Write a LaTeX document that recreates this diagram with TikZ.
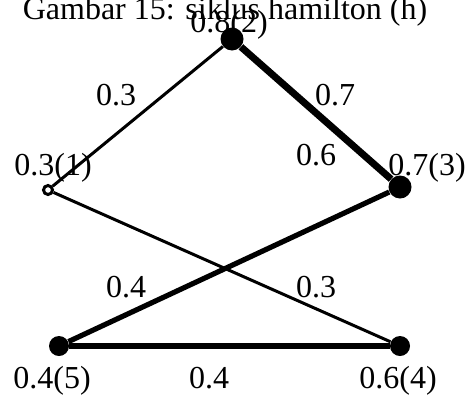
\documentclass[tikz,border=0pt]{standalone}
\usepackage{fontspec}
\setmainfont{Liberation Serif}
\usetikzlibrary{positioning}

\begin{document}
\begin{tikzpicture}[x=0.5pt,y=-0.5pt,
  v/.style={circle,fill=black,inner sep=0pt,minimum size=11.5pt},
  vo/.style={circle,draw=black,fill=white,line width=1.5pt,inner sep=0pt,minimum size=4.5pt},
  lb/.style={font=\fontsize{16}{19}\selectfont,anchor=base,inner sep=0pt},
  thin/.style={line width=1.5pt},
  thk/.style={line width=2.6pt},
  thkk/.style={line width=3.5pt}]
  \useasboundingbox (0,0) rectangle (474,396);
  \node[lb] (title) at (225,19) {Gambar 15: siklus hamilton (h)};
  % vertices
  \node[vo] (v1) at (48,190) {};
  \node[v] (v2) at (232,39) {};
  \node[v] (v3) at (400,187) {};
  \node[v,minimum size=10pt] (v4) at (400,346) {};
  \node[v,minimum size=10pt] (v5) at (59,346) {};
  % edges
  \draw[thin] (v1) -- (v2);
  \draw[thkk] (v2) -- (v3);
  \draw[thin] (v1) -- (v4);
  \draw[thk] (v3) -- (v5);
  \draw[thk] (v5) -- (v4);
  % vertex labels
  \node[lb] (l2) at (229,32) {0.8(2)};
  \node[lb] (l1) at (53,175) {0.3(1)};
  \node[lb] (l3) at (427,175) {0.7(3)};
  \node[lb] (l5) at (52,388) {0.4(5)};
  \node[lb] (l4) at (398,388) {0.6(4)};
  % edge weights
  \node[lb] (w12) at (116,105) {0.3};
  \node[lb] (w23) at (335,105) {0.7};
  \node[lb] (w6) at (316,165) {0.6};
  \node[lb] (w35) at (126,297) {0.4};
  \node[lb] (w14) at (316,297) {0.3};
  \node[lb] (w54) at (209,388) {0.4};
\end{tikzpicture}
\end{document}
